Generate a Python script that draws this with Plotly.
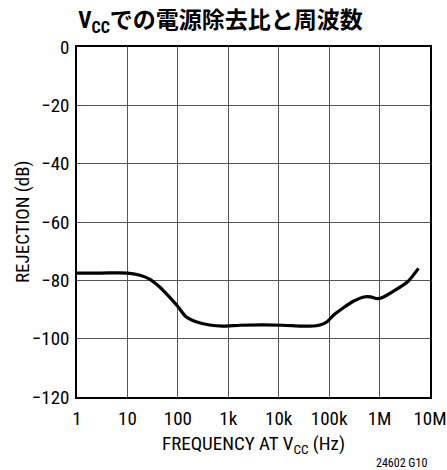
import plotly.graph_objects as go

freq_hz = [1, 3, 10, 17, 27, 43, 67, 100, 145, 230, 425, 780, 1700, 5000, 12000, 28000, 42000, 66000, 91000,
           123000, 195000, 309000, 490000, 660000, 910000, 1140000, 1900000, 3600000, 5900000]
rejection_db = [-77.5, -77.5, -77.5, -78.2, -79.5, -82.2, -85.6, -89.0, -92.5, -94.2, -95.3, -95.7, -95.4, -95.3,
                -95.4, -95.7, -95.7, -95.3, -94.2, -91.9, -89.3, -87.1, -85.7, -85.7, -86.3, -85.9, -83.7, -80.5, -75.9]

x_tickvals = [1, 10, 100, 1000, 10000, 100000, 1000000, 10000000]
x_ticktext = ["1", "10", "100", "1k", "10k", "100k", "1M", "10M"]
y_tickvals = [0, -20, -40, -60, -80, -100, -120]
y_ticktext = ["0", "\u221220", "\u221240", "\u221260", "\u221280", "\u2212100", "\u2212120"]

FONT = "Roboto Condensed, Liberation Sans, Arial, sans-serif"

fig = go.Figure()
fig.add_trace(go.Scatter(
    x=freq_hz, y=rejection_db, mode="lines",
    line=dict(color="black", width=3.2, shape="spline", smoothing=0.7),
    hoverinfo="skip", showlegend=False,
))

axis_common = dict(
    showgrid=True, gridcolor="#555555", gridwidth=1,
    showline=True, linecolor="black", linewidth=1.5, mirror=True,
    ticks="", zeroline=False, automargin=False,
    tickfont=dict(family=FONT, size=19, color="black"),
)

fig.update_layout(
    width=447, height=470,
    margin=dict(l=77, r=17, t=47, b=73, autoexpand=False),
    paper_bgcolor="white", plot_bgcolor="white",
    font=dict(family=FONT, size=19, color="black"),
    title=dict(
        text="<b>V<sub>CC</sub>での電源除去比と周波数</b>",
        x=220.5 / 447, xanchor="center", y=1 - 20 / 470, yanchor="middle",
        font=dict(family="Roboto Condensed, Noto Sans CJK JP, sans-serif", size=23, color="black"),
    ),
    xaxis=dict(type="log", range=[0, 7], tickvals=x_tickvals, ticktext=x_ticktext,
               ticklabelstandoff=3, **axis_common),
    yaxis=dict(range=[-120, 0], tickvals=y_tickvals, ticktext=y_ticktext,
               ticklabelstandoff=2, **axis_common),
)

fig.add_annotation(
    text="FREQUENCY AT V<sub>CC</sub> (Hz)", xref="paper", yref="paper",
    x=(253.5 - 77) / 353, y=-(444 - 397) / 350, xanchor="center", yanchor="middle",
    showarrow=False, font=dict(family=FONT, size=19, color="black"),
)
fig.add_annotation(
    text="REJECTION (dB)", xref="paper", yref="paper", textangle=-90,
    x=-(77 - 22) / 353, y=(397 - 222) / 350, xanchor="center", yanchor="middle",
    showarrow=False, font=dict(family=FONT, size=19, color="black"),
)
fig.add_annotation(
    text="24602 G10", xref="paper", yref="paper",
    x=(429 - 77) / 353, y=-(463 - 397) / 350, xanchor="right", yanchor="middle",
    showarrow=False, font=dict(family=FONT, size=12, color="black"),
)

fig.write_html("out.html")
